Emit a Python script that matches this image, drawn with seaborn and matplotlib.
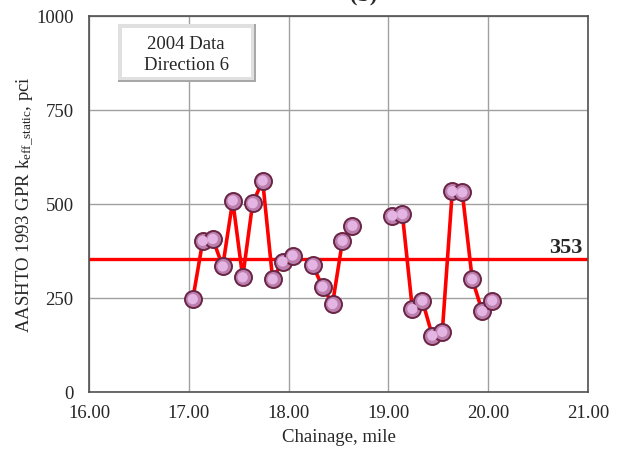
import numpy as np
import pandas as pd
import matplotlib
matplotlib.use("Agg")
import matplotlib.pyplot as plt
from matplotlib.patches import Rectangle
import seaborn as sns

# Chainage (mile) and backcalculated k-values (pci), grouped by survey run
seg_a_x = [17.04, 17.14, 17.24, 17.34, 17.44, 17.54, 17.64, 17.74, 17.84, 17.94, 18.04]
seg_a_k = [247, 402, 407, 334, 509, 305, 502, 562, 300, 347, 363]
seg_b_x = [18.24, 18.34, 18.44, 18.54, 18.64]
seg_b_k = [338, 280, 234, 402, 442]
seg_c_x = [19.04, 19.14, 19.24, 19.34, 19.44, 19.54, 19.64, 19.74, 19.84, 19.94, 20.04]
seg_c_k = [469, 473, 221, 243, 150, 160, 534, 531, 300, 215, 243]

mean_k = 353
x_ticks = [16, 17, 18, 19, 20, 21]
y_ticks = [0, 250, 500, 750, 1000]
panel_title = "(b)"
box_text = "2004 Data\nDirection 6"

df = pd.DataFrame({
    "chainage": seg_a_x + seg_b_x + seg_c_x,
    "k": seg_a_k + seg_b_k + seg_c_k,
    "run": ["a"] * len(seg_a_x) + ["b"] * len(seg_b_x) + ["c"] * len(seg_c_x),
})

sns.set_style("white")
plt.rcParams["font.family"] = ["Liberation Serif", "DejaVu Serif"]
plt.rcParams["mathtext.fontset"] = "stix"

fig = plt.figure(figsize=(6.21, 4.6), dpi=100)
ax = fig.add_axes([89 / 621, 1 - 393 / 460, 499 / 621, 376 / 460])

ax.set_xlim(16, 21)
ax.set_ylim(0, 1000)
ax.set_xticks(x_ticks)
ax.set_yticks(y_ticks)
ax.set_xticklabels([f"{v:.2f}" for v in x_ticks])
ax.set_yticklabels([str(v) for v in y_ticks])
ax.grid(True, color="#a0a0a0", lw=1.0)
ax.set_axisbelow(True)
for s in ax.spines.values():
    s.set_color("#505050")
    s.set_linewidth(1.2)
ax.tick_params(axis="x", length=0, labelsize=13.5, pad=9)
ax.tick_params(axis="y", length=0, labelsize=13.5, pad=11)

# mean line
ax.axhline(mean_k, color="#ff0000", lw=2.4, zorder=2)
ax.text(20.94, mean_k + 5, str(mean_k), ha="right", va="bottom",
        fontsize=16, fontweight="bold", zorder=5)

# data lines, one per run
sns.lineplot(data=df, x="chainage", y="k", units="run", estimator=None,
             color="#ff0000", lw=2.6, ax=ax, zorder=3, legend=False)
# spherical markers: dark rim + lighter core
sns.scatterplot(data=df, x="chainage", y="k", s=150, color="#bb7fad",
                edgecolor="#6a2545", linewidth=1.4, ax=ax, zorder=4, legend=False)
sns.scatterplot(data=df, x="chainage", y="k", s=55, color="#e4b4e2",
                edgecolor="none", ax=ax, zorder=5, legend=False)

ax.set_xlabel("Chainage, mile", fontsize=13.5, labelpad=5)
ax.set_ylabel(r"AASHTO 1993 GPR k$\mathregular{_{eff\_static}}$, pci", fontsize=13.5)
ax.yaxis.set_label_coords(-0.106, 0.5)

# beveled text box
W, H = 621, 460
def frect(x0, y0, x1, y1, **kw):
    fig.patches.append(Rectangle((x0 / W, 1 - y1 / H), (x1 - x0) / W, (y1 - y0) / H,
                                 transform=fig.transFigure, **kw))
frect(118, 25, 256, 83, facecolor="#a8a8a8", edgecolor="none", zorder=6)
frect(118, 25, 254, 81, facecolor="#e0e0e0", edgecolor="none", zorder=6)
frect(122, 29, 251, 78, facecolor="white", edgecolor="none", zorder=6)
fig.text(186 / W, 1 - 55 / H, box_text, ha="center", va="center",
         fontsize=13.5, linespacing=1.3, zorder=7)

# panel title, mostly above the page edge
fig.text(364 / W, 1 - 0.5 / H, panel_title, ha="center", va="baseline",
         fontsize=16, fontweight="bold")

fig.savefig("out.png", dpi=100)
